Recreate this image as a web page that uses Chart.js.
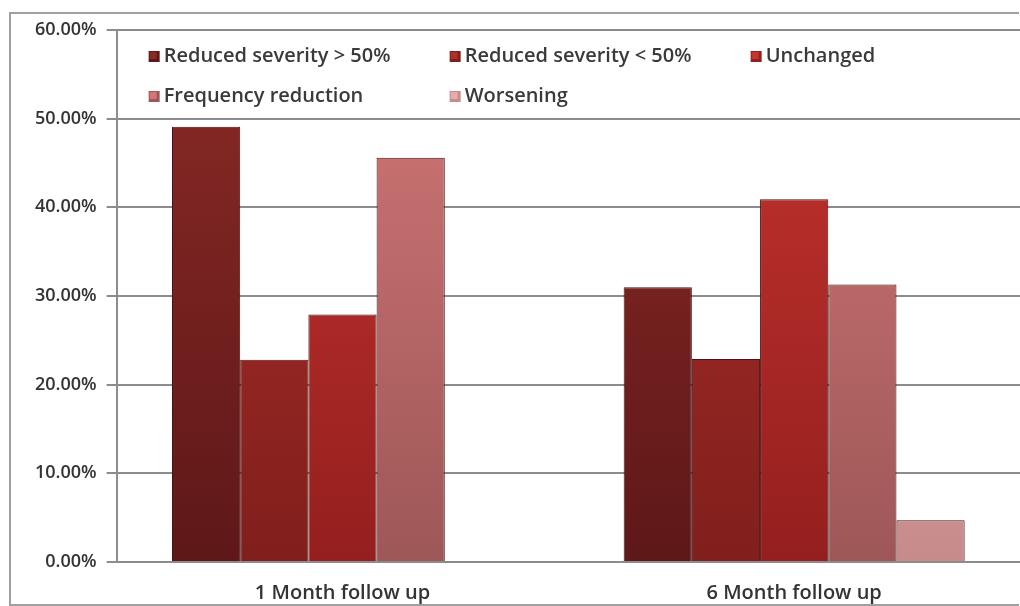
<!DOCTYPE html>
<html>
<head>
<meta charset="utf-8">
<script src="https://cdn.jsdelivr.net/npm/chart.js@4/dist/chart.umd.min.js"></script>
<style>
  html, body { margin: 0; padding: 0; background: #fff; overflow: hidden; }
  #frame { position: absolute; left: 9px; top: 12px; width: 1008px; height: 590px; border: 2px solid #a0a0a0; border-right: none; }
  #wrap { position: absolute; left: 0; top: 0; width: 1020px; height: 606px; }
</style>
</head>
<body>
<div id="frame"></div>
<div id="wrap"><canvas id="chart" width="1020" height="606"></canvas></div>
<script>
const categories = ["1 Month follow up", "6 Month follow up"];
const seriesNames = ["Reduced severity > 50%", "Reduced severity < 50%", "Unchanged", "Frequency reduction", "Worsening"];
const reducedOver50 = [49.1, 31.0];
const reducedUnder50 = [22.8, 22.9];
const unchanged = [27.9, 40.9];
const frequencyReduction = [45.6, 31.3];
const worsening = [0, 4.7];
const yTicks = [0, 10, 20, 30, 40, 50, 60];

const colors = [
  ["#8a2a26", "#5e1818"],
  ["#b02f2a", "#801f1c"],
  ["#c6342f", "#941f1e"],
  ["#d27777", "#9e5757"],
  ["#e4acaa", "#c68b8a"]
];

function grad(i) {
  return function (ctx) {
    const area = ctx.chart.chartArea;
    if (!area) return colors[i][0];
    const g = ctx.chart.ctx.createLinearGradient(0, area.top, 0, area.bottom);
    g.addColorStop(0, colors[i][0]);
    g.addColorStop(1, colors[i][1]);
    return g;
  };
}

const allValues = [reducedOver50, reducedUnder50, unchanged, frequencyReduction, worsening];

// legend drawn inside the plot area, like the original
const insideLegend = {
  id: "insideLegend",
  afterDraw(chart) {
    const c = chart.ctx;
    const a = chart.chartArea;
    const x0 = a.left + 32, y0 = a.top + 26;
    c.save();
    c.font = "600 20px 'Open Sans'";
    c.textBaseline = "middle";
    seriesNames.forEach((name, i) => {
      const col = i % 3, row = Math.floor(i / 3);
      const x = x0 + col * 301, y = y0 + row * 40;
      c.fillStyle = colors[i][1];
      c.fillRect(x, y - 5, 11, 11);
      c.fillStyle = colors[i][0];
      c.fillRect(x + 1, y - 4, 7, 7);
      c.fillStyle = "#3a3a3a";
      c.fillText(name, x + 15, y);
    });
    c.restore();
  }
};

new Chart(document.getElementById("chart"), {
  type: "bar",
  data: {
    labels: categories,
    datasets: seriesNames.map((name, i) => ({
      label: name,
      data: allValues[i],
      backgroundColor: grad(i),
      borderColor: "#4a1212",
      borderWidth: 1,
      categoryPercentage: 0.755,
      barPercentage: 1.0
    }))
  },
  options: {
    responsive: false,
    animation: false,
    layout: { padding: { left: 25, top: 30, right: -10, bottom: -10 } },
    plugins: { legend: { display: false }, tooltip: { enabled: false } },
    scales: {
      x: {
        grid: { display: false },
        border: { display: false },
        ticks: { color: "#333", font: { family: "Open Sans", size: 20, weight: "600" }, padding: 11 }
      },
      y: {
        min: 0,
        max: 60,
        afterBuildTicks(axis) { axis.ticks = yTicks.map(v => ({ value: v })); },
        grid: { color: "#8c8c8c", lineWidth: 2, tickLength: 10 },
        border: { display: true, color: "#8c8c8c", width: 2 },
        ticks: {
          color: "#333",
          font: { family: "Open Sans", size: 18, weight: "600" },
          padding: 10,
          callback: v => v.toFixed(2) + "%"
        }
      }
    }
  },
  plugins: [insideLegend]
});
</script>
</body>
</html>
